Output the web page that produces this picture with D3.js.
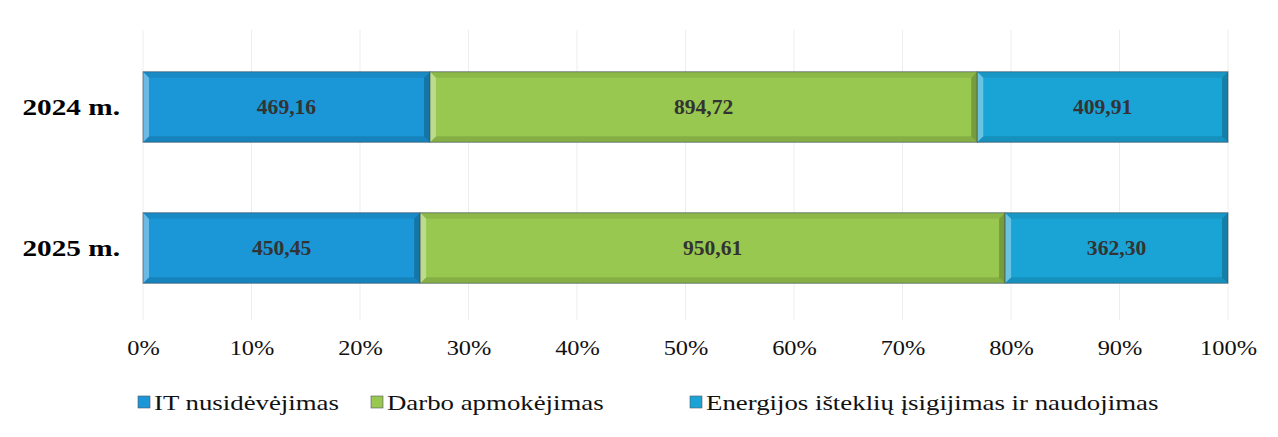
<!DOCTYPE html>
<html>
<head>
<meta charset="utf-8">
<script src="https://cdn.jsdelivr.net/npm/d3@7"></script>
<style>
  body { margin: 0; background: #fff; }
  text { font-family: "Liberation Serif", "Times New Roman", serif; }
</style>
</head>
<body>
<div id="chart"></div>
<script>
// data
const years = ["2024 m.", "2025 m."];
const seriesNames = ["IT nusidėvėjimas", "Darbo apmokėjimas", "Energijos išteklių įsigijimas ir naudojimas"];
const itValues = [469.16, 450.45];
const darboValues = [894.72, 950.61];
const energValues = [409.91, 362.30];
const tickValues = [0, 0.1, 0.2, 0.3, 0.4, 0.5, 0.6, 0.7, 0.8, 0.9, 1];

const colors = ["#1b96d7", "#98c84f", "#1aa4d6"];
const stretch = 1.22; // the scan is wider than tall

const width = 1278, height = 437;
const svg = d3.select("#chart").append("svg")
    .attr("width", width)
    .attr("height", height);

const rows = years.map((y, i) => ({
    year: y,
    values: [itValues[i], darboValues[i], energValues[i]]
}));

const x = d3.scaleLinear().domain([0, 1]).range([143, 1228]);
const y = d3.scaleBand().domain(years).range([36.5, 318.5])
    .paddingInner(0.5).paddingOuter(0.25);

// grid
svg.selectAll(".grid")
    .data(tickValues)
    .join("line")
    .attr("class", "grid")
    .attr("x1", d => x(d)).attr("x2", d => x(d))
    .attr("y1", 30).attr("y2", 320)
    .attr("stroke", "#ededed")
    .attr("stroke-width", 1);

// segments
const segs = [];
rows.forEach(r => {
    const total = d3.sum(r.values);
    let acc = 0;
    r.values.forEach((v, k) => {
        segs.push({ year: r.year, k: k, v: v, x0: acc / total, x1: (acc + v) / total });
        acc += v;
    });
});

const bev = 6;
const g = svg.selectAll(".seg").data(segs).join("g").attr("class", "seg");

g.append("rect")
    .attr("x", d => x(d.x0))
    .attr("y", d => y(d.year))
    .attr("width", d => x(d.x1) - x(d.x0))
    .attr("height", y.bandwidth())
    .attr("fill", d => colors[d.k]);

// bevel edges
function edge(d, side) {
    const x0 = x(d.x0), x1 = x(d.x1), y0 = y(d.year), y1 = y0 + y.bandwidth();
    const pts = {
        top: [[x0, y0], [x1, y0], [x1 - bev, y0 + bev], [x0 + bev, y0 + bev]],
        bottom: [[x0, y1], [x1, y1], [x1 - bev, y1 - bev], [x0 + bev, y1 - bev]],
        left: [[x0, y0], [x0 + bev, y0 + bev], [x0 + bev, y1 - bev], [x0, y1]],
        right: [[x1, y0], [x1 - bev, y0 + bev], [x1 - bev, y1 - bev], [x1, y1]]
    }[side];
    return "M" + pts.map(p => p.join(",")).join("L") + "Z";
}
const edgeStyle = {
    top: ["#000", 0.08],
    bottom: ["#000", 0.12],
    left: ["#fff", 0.35],
    right: ["#000", 0.22]
};
Object.keys(edgeStyle).forEach(side => {
    g.append("path")
        .attr("d", d => edge(d, side))
        .attr("fill", edgeStyle[side][0])
        .attr("fill-opacity", edgeStyle[side][1]);
});

g.append("rect")
    .attr("x", d => x(d.x0))
    .attr("y", d => y(d.year))
    .attr("width", d => x(d.x1) - x(d.x0))
    .attr("height", y.bandwidth())
    .attr("fill", "none")
    .attr("stroke", "#3a4a5a")
    .attr("stroke-opacity", 0.6)
    .attr("stroke-width", 1);

g.append("text")
    .attr("transform", d => `translate(${(x(d.x0) + x(d.x1)) / 2},${y(d.year) + y.bandwidth() / 2}) scale(1.08,1)`)
    .attr("dy", "0.35em")
    .attr("text-anchor", "middle")
    .attr("font-size", 20)
    .attr("font-weight", "bold")
    .attr("fill", "#333")
    .text(d => d.v.toFixed(2).replace(".", ","));

// category labels
svg.selectAll(".cat")
    .data(years)
    .join("text")
    .attr("class", "cat")
    .attr("transform", d => `translate(120,${y(d) + y.bandwidth() / 2}) scale(${stretch},1)`)
    .attr("dy", "0.35em")
    .attr("text-anchor", "end")
    .attr("font-size", 24)
    .attr("font-weight", "bold")
    .attr("fill", "#000")
    .text(d => d);

// x axis
const xAxis = svg.append("g")
    .attr("transform", "translate(0,338)")
    .call(d3.axisBottom(x).tickValues(tickValues).tickFormat(d3.format(".0%")).tickSize(0));
xAxis.select(".domain").remove();
xAxis.selectAll("text")
    .attr("font-family", "Liberation Serif, serif")
    .attr("font-size", 20)
    .attr("fill", "#111")
    .attr("transform", `scale(${stretch},1)`)
    .attr("x", function() { return 0; });

// legend
const legendX = [138, 371, 690];
const legend = svg.selectAll(".leg")
    .data(seriesNames)
    .join("g")
    .attr("class", "leg")
    .attr("transform", (d, i) => `translate(${legendX[i]},402)`);
legend.append("rect")
    .attr("x", 0).attr("y", -6)
    .attr("width", 12).attr("height", 12)
    .attr("fill", (d, i) => colors[i])
    .attr("stroke", "#556")
    .attr("stroke-width", 0.6);
legend.append("text")
    .attr("transform", `translate(16,0) scale(${stretch},1)`)
    .attr("dy", "0.35em")
    .attr("font-family", "Liberation Serif, serif")
    .attr("font-size", 22)
    .attr("fill", "#111")
    .text(d => d);
</script>
</body>
</html>
